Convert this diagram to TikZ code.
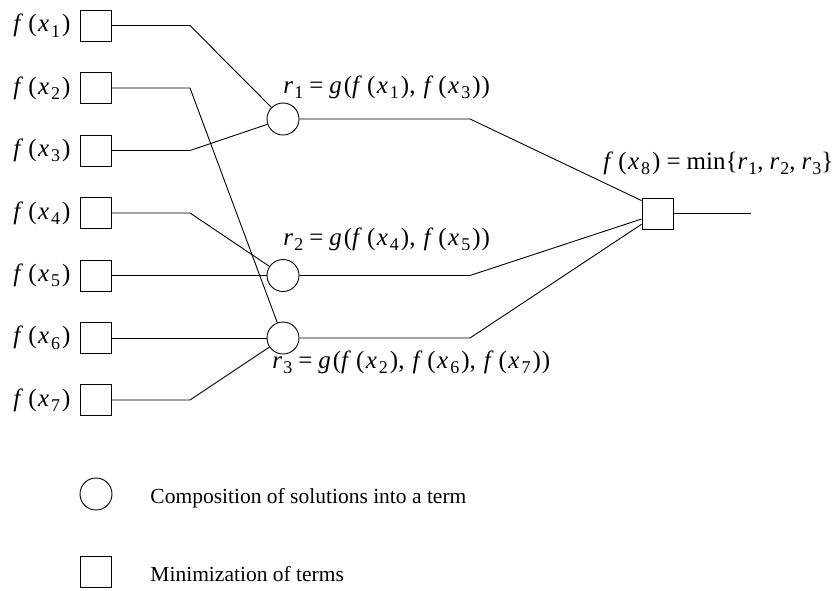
\documentclass[tikz,border=0pt]{standalone}
\usepackage{fontspec}
\setmainfont{Liberation Serif}
\newcommand\sbs[1]{\raisebox{-0.22em}{\fontsize{18}{18}\selectfont #1}}
\newcommand\fx[1]{\textit{f}\kern5pt(\kern1.5pt\textit{x}\kern2pt\sbs{#1}\kern2pt)}
\newcommand\rr[1]{\textit{r}\kern1pt\sbs{#1}}
\newcommand\gfun{\textit{g}\kern2pt(}
\newcommand\eqs{\kern6pt=\kern6pt}
\newcommand\cm{,\kern8pt}
\newcommand\cms{,\kern6pt}
\begin{document}
\begin{tikzpicture}[x=1pt,y=-1pt, line width=0.9pt,
  box/.style={draw, minimum size=31pt, inner sep=0pt},
  op/.style={draw, circle, minimum size=32pt, inner sep=0pt},
  mlbl/.style={font=\fontsize{25}{28}\selectfont, inner sep=0pt},
  lbl/.style={font=\fontsize{21.5}{24}\selectfont, inner sep=0pt}]
\useasboundingbox (0,0) rectangle (837,590);
\foreach \i/\y in {1/25.5,2/88,3/150.5,4/213,5/275.5,6/338,7/400} {
  \node[box] (b\i) at (96,\y) {};
  \node[mlbl, anchor=east] (l\i) at (71,\y) {\fx{\i}};
  \coordinate (k\i) at (190,\y);
}
\node[op] (r1) at (283,119) {};
\node[op] (r2) at (283,275.5) {};
\node[op] (r3) at (283,338) {};
\node[box] (f8) at (657.5,213.5) {};
\coordinate (m1) at (470,119);
\coordinate (m2) at (470,275.5);
\coordinate (m3) at (470,338);
\coordinate (out) at (751,213.5);
\draw (b1.east) -- (k1) -- (r1);
\draw (b3.east) -- (k3) -- (r1);
\draw (b2.east) -- (k2) -- (r3);
\draw (b4.east) -- (k4) -- (r2);
\draw (b5) -- (r2);
\draw (b6) -- (r3);
\draw (b7.east) -- (k7) -- (r3);
\draw (r1) -- (m1) -- (f8.141);
\draw (r2) -- (m2) -- (f8.199);
\draw (r3) -- (m3) -- (f8.214);
\draw (f8) -- (out);
\node[mlbl, anchor=base west] (t1) at (283,93) {\rr{1}\eqs\gfun\fx{1}\cm\fx{3}\kern1pt)};
\node[mlbl, anchor=base west] (t2) at (283,245) {\rr{2}\eqs\gfun\fx{4}\cm\fx{5}\kern1pt)};
\node[mlbl, anchor=base west] (t3) at (272,368) {\rr{3}\eqs\gfun\fx{2}\cm\fx{6}\cm\fx{7}\kern1pt)};
\node[mlbl, anchor=base west] (t8) at (603,169) {\fx{8}\eqs min\{\rr{1}\cms\rr{2}\cms\rr{3}\}};
\node[op] (lc) at (96,494) {};
\node[box] (ls) at (96,571.5) {};
\node[lbl, anchor=base west] (lct) at (150,503) {Composition of solutions into a term};
\node[lbl, anchor=base west] (lst) at (150,581) {Minimization of terms};
\end{tikzpicture}
\end{document}
